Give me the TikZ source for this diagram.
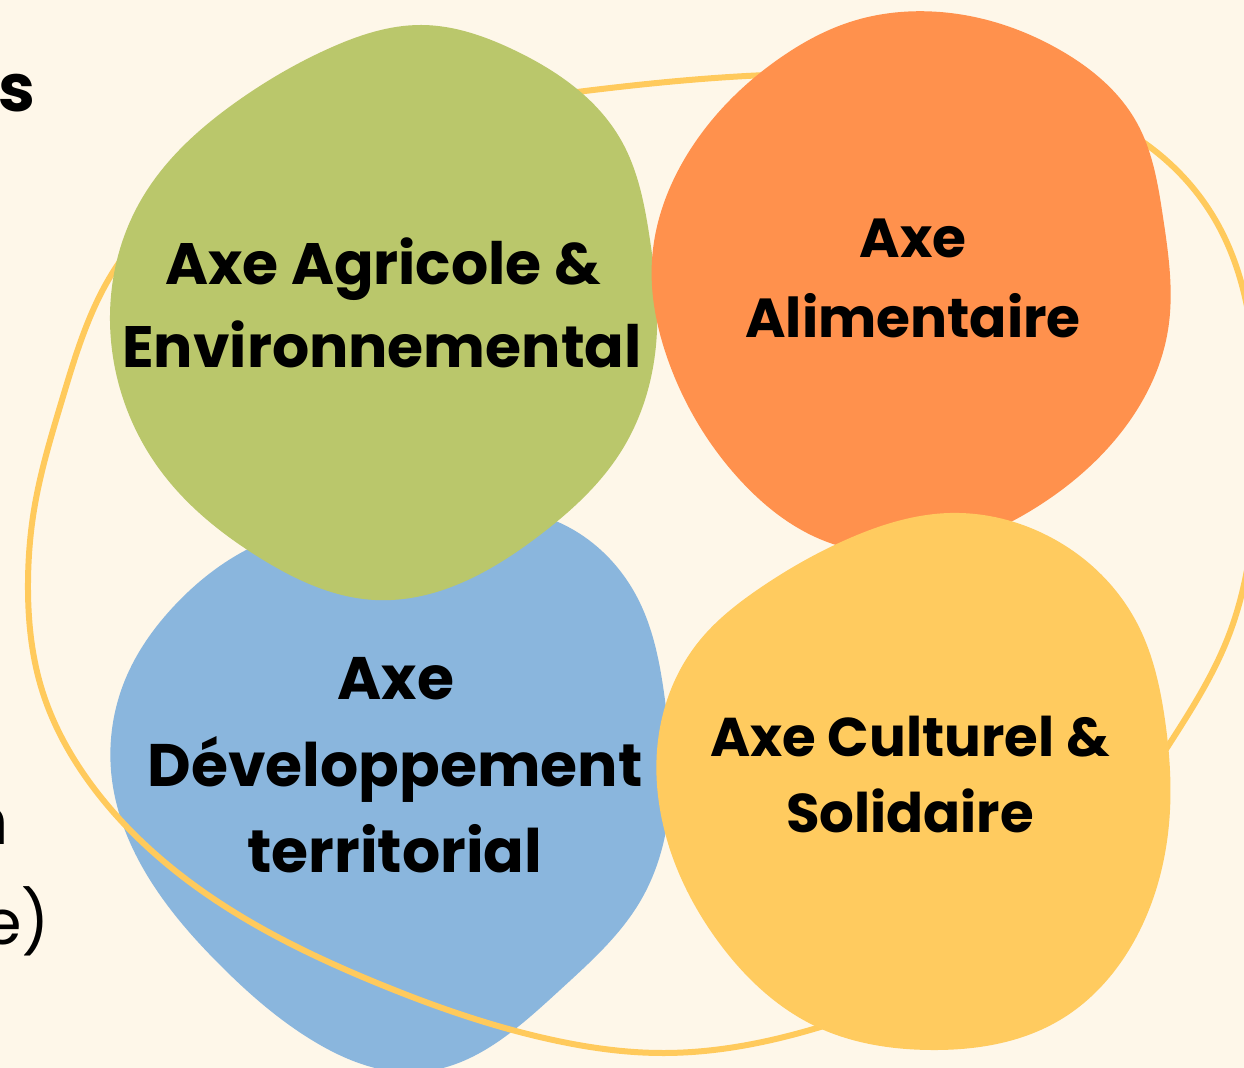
\documentclass[tikz,border=0pt]{standalone}
\usepackage{fontspec}
\usetikzlibrary{hobby}
\setmainfont{Poppins}
\definecolor{bgc}{HTML}{FEF7E9}
\definecolor{blobgreen}{HTML}{BAC76B}
\definecolor{bloborange}{HTML}{FF914D}
\definecolor{blobblue}{HTML}{8AB6DD}
\definecolor{blobyellow}{HTML}{FFCB5F}
\definecolor{ringc}{HTML}{FFCA5C}
\tikzset{
  blobtext/.style={font=\bfseries\fontsize{#1}{38}\selectfont, anchor=base, inner sep=0pt, text=black},
  edgebold/.style={font=\bfseries\fontsize{33}{38}\selectfont, anchor=base east, inner sep=0pt, text=black},
  edgereg/.style={font=\fontsize{31}{38}\selectfont, anchor=base east, inner sep=0pt, text=black},
  ring/.style={draw=ringc, line width=3pt, line join=round},
}
\begin{document}
\begin{tikzpicture}[x=0.5pt,y=-0.5pt]
\useasboundingbox (0,0) rectangle (1244,1068);
\clip (0,0) rectangle (1244,1068);
\fill[bgc] (0,0) rectangle (1244,1068);
% blue blob
\fill[blobblue, use Hobby shortcut, closed=true]
 (400,512) .. (558,522) .. (637,597) .. (665,700) .. (670,800) .. (641,900)
 .. (560,990) .. (420,1072) .. (315,1042) .. (220,965) .. (150,880)
 .. (112,780) .. (125,680) .. (175,605) .. (250,548);
% ring
\draw[ring, use Hobby shortcut, closed=true]
 (110,277) .. (62,400) .. (34,510) .. (28,583) .. (42,690) .. (90,783)
 .. (205,893) .. (377,983) .. (553,1040) .. (660,1053) .. (817,1028)
 .. (1050,900) .. (1170,743) .. (1227,640) .. (1257,430) .. (1217,223)
 .. (1143,142) .. (950,80) .. (767,75) .. (577,92) .. (350,130) .. (200,185);
% green blob
\fill[blobgreen, use Hobby shortcut, closed=true]
 (421,25) .. (514,50) .. (621,140) .. (650,240) .. (657,330) .. (622,450)
 .. (540,535) .. (375,600) .. (260,558) .. (160,470) .. (112,350)
 .. (141,200) .. (239,100) .. (330,48);
% orange blob
\fill[bloborange, use Hobby shortcut, closed=true]
 (940,12) .. (1060,50) .. (1137,123) .. (1163,217) .. (1168,330)
 .. (1123,430) .. (1040,505) .. (930,550) .. (830,543) .. (740,480)
 .. (668,360) .. (652,260) .. (690,150) .. (780,58) .. (850,22);
% yellow blob
\fill[blobyellow, use Hobby shortcut, closed=true]
 (950,513) .. (1040,532) .. (1137,623) .. (1165,720) .. (1170,810)
 .. (1140,930) .. (1060,1020) .. (930,1050) .. (817,1027) .. (717,940)
 .. (662,820) .. (664,710) .. (700,640) .. (760,588) .. (850,538);
% texts
\node[blobtext=29.2] (g1) at (383,285) {Axe Agricole \&};
\node[blobtext=29.2] (g2) at (382,368) {Environnemental};
\node[blobtext=27.5] (o1) at (913,258) {Axe};
\node[blobtext=27.5] (o2) at (913,338) {Alimentaire};
\node[blobtext=30] (b1) at (396,700) {Axe};
\node[blobtext=30] (b2) at (395,787) {Développement};
\node[blobtext=30] (b3) at (395,873) {territorial};
\node[blobtext=27.3] (y1) at (910,757) {Axe Culturel \&};
\node[blobtext=27.3] (y2) at (910,833) {Solidaire};
% cut-off texts at the left edge
\node[edgebold] (ls) at (36,112) {s};
\node[edgebold] (ln) at (8,845) {n};
\node[edgereg] (le) at (50,945) {e)};
\end{tikzpicture}
\end{document}
